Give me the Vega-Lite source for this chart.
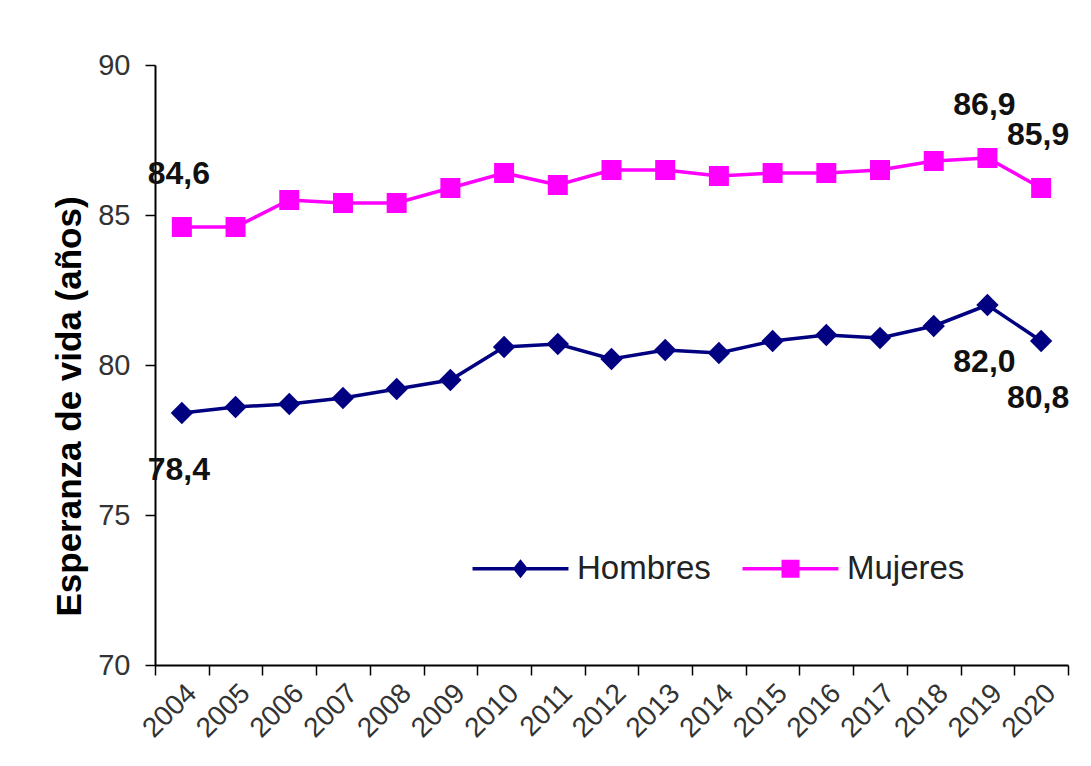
{
  "$schema": "https://vega.github.io/schema/vega-lite/v6.json",
  "width": 913,
  "height": 600,
  "autosize": {"type": "none"},
  "padding": {"left": 155, "top": 65, "right": 23, "bottom": 101},
  "background": "white",
  "config": {
    "view": {"stroke": null},
    "font": "Liberation Sans",
    "locale": {"number": {"decimal": ",", "thousands": ".", "grouping": [3], "currency": ["", " €"]}}
  },
  "data": {
    "values": [
      {"year": "2004", "serie": "Hombres", "valor": 78.4},
      {"year": "2005", "serie": "Hombres", "valor": 78.6},
      {"year": "2006", "serie": "Hombres", "valor": 78.7},
      {"year": "2007", "serie": "Hombres", "valor": 78.9},
      {"year": "2008", "serie": "Hombres", "valor": 79.2},
      {"year": "2009", "serie": "Hombres", "valor": 79.5},
      {"year": "2010", "serie": "Hombres", "valor": 80.6},
      {"year": "2011", "serie": "Hombres", "valor": 80.7},
      {"year": "2012", "serie": "Hombres", "valor": 80.2},
      {"year": "2013", "serie": "Hombres", "valor": 80.5},
      {"year": "2014", "serie": "Hombres", "valor": 80.4},
      {"year": "2015", "serie": "Hombres", "valor": 80.8},
      {"year": "2016", "serie": "Hombres", "valor": 81.0},
      {"year": "2017", "serie": "Hombres", "valor": 80.9},
      {"year": "2018", "serie": "Hombres", "valor": 81.3},
      {"year": "2019", "serie": "Hombres", "valor": 82.0},
      {"year": "2020", "serie": "Hombres", "valor": 80.8},
      {"year": "2004", "serie": "Mujeres", "valor": 84.6},
      {"year": "2005", "serie": "Mujeres", "valor": 84.6},
      {"year": "2006", "serie": "Mujeres", "valor": 85.5},
      {"year": "2007", "serie": "Mujeres", "valor": 85.4},
      {"year": "2008", "serie": "Mujeres", "valor": 85.4},
      {"year": "2009", "serie": "Mujeres", "valor": 85.9},
      {"year": "2010", "serie": "Mujeres", "valor": 86.4},
      {"year": "2011", "serie": "Mujeres", "valor": 86.0},
      {"year": "2012", "serie": "Mujeres", "valor": 86.5},
      {"year": "2013", "serie": "Mujeres", "valor": 86.5},
      {"year": "2014", "serie": "Mujeres", "valor": 86.3},
      {"year": "2015", "serie": "Mujeres", "valor": 86.4},
      {"year": "2016", "serie": "Mujeres", "valor": 86.4},
      {"year": "2017", "serie": "Mujeres", "valor": 86.5},
      {"year": "2018", "serie": "Mujeres", "valor": 86.8},
      {"year": "2019", "serie": "Mujeres", "valor": 86.9},
      {"year": "2020", "serie": "Mujeres", "valor": 85.9}
    ]
  },
  "encoding": {
    "x": {
      "field": "year",
      "type": "ordinal",
      "scale": {"paddingInner": 0, "paddingOuter": 0},
      "axis": {
        "title": null,
        "tickBand": "extent",
        "labelAngle": -45,
        "labelFontSize": 28,
        "labelColor": "#333333",
        "labelPadding": 4,
        "tickSize": 10,
        "tickColor": "#000000",
        "domainColor": "#000000",
        "domainWidth": 2,
        "tickWidth": 1.5,
        "grid": false
      }
    },
    "y": {
      "field": "valor",
      "type": "quantitative",
      "scale": {"domain": [70, 90], "nice": false, "zero": false},
      "axis": {
        "title": "Esperanza de vida (años)",
        "titleFontSize": 35,
        "titleFontWeight": "bold",
        "titleColor": "#000000",
        "titlePadding": 10,
        "titleY": 341,
        "titleAlign": "center",
        "values": [70, 75, 80, 85, 90],
        "labelFontSize": 29,
        "labelColor": "#333333",
        "labelPadding": 15,
        "tickSize": 10,
        "tickColor": "#000000",
        "domainColor": "#000000",
        "domainWidth": 2,
        "tickWidth": 1.5,
        "grid": false
      }
    }
  },
  "layer": [
    {
      "mark": {"type": "line", "strokeWidth": 3.5},
      "encoding": {
        "stroke": {
          "field": "serie",
          "type": "nominal",
          "scale": {"domain": ["Hombres", "Mujeres"], "range": ["#000080", "#ff00ff"]},
          "legend": {
            "orient": "none",
            "legendX": 349,
            "legendY": 487,
            "direction": "horizontal",
            "title": null,
            "padding": 0,
            "labelFontSize": 33,
            "labelColor": "#222222",
            "labelFont": "Liberation Sans",
            "symbolSize": 324,
            "symbolStrokeWidth": 0,
            "symbolType": "M-5.33,-0.19L5.33,-0.19L5.33,0.19L-5.33,0.19Z",
            "labelOffset": 40,
            "columnPadding": 31,
            "encode": {
              "symbols": {
                "update": {
                  "shape": {"signal": "datum.value === 'Hombres' ? 'M-5.33,-0.19L5.33,-0.19L5.33,0.19L-5.33,0.19ZM0,-1.05L0.85,0L0,1.05L-0.85,0Z' : 'M-5.33,-0.19L5.33,-0.19L5.33,0.19L-5.33,0.19ZM-1,-1L1,-1L1,1L-1,1Z'"},
                  "fill": {"signal": "datum.value === 'Hombres' ? '#000080' : '#ff00ff'"},
                  "fillOpacity": {"value": 1},
                  "opacity": {"value": 1}
                }
              }
            }
          }
        }
      }
    },
    {
      "transform": [{"filter": "datum.serie === 'Hombres'"}],
      "mark": {"type": "point", "filled": true, "opacity": 1, "shape": "diamond", "size": 500, "color": "#000080"}
    },
    {
      "transform": [{"filter": "datum.serie === 'Mujeres'"}],
      "mark": {"type": "point", "filled": true, "opacity": 1, "shape": "square", "size": 400, "color": "#ff00ff"}
    },
    {
      "transform": [{"filter": "datum.serie === 'Mujeres' && (datum.year === '2004' || datum.year === '2019' || datum.year === '2020')"}],
      "mark": {"type": "text", "dy": -53, "dx": -3, "fontSize": 32, "fontWeight": "bold", "color": "#111111", "baseline": "middle"},
      "encoding": {"text": {"field": "valor", "type": "quantitative", "format": ".1f"}}
    },
    {
      "transform": [{"filter": "datum.serie === 'Hombres' && (datum.year === '2004' || datum.year === '2019' || datum.year === '2020')"}],
      "mark": {"type": "text", "dy": 57, "dx": -3, "fontSize": 32, "fontWeight": "bold", "color": "#111111", "baseline": "middle"},
      "encoding": {"text": {"field": "valor", "type": "quantitative", "format": ".1f"}}
    }
  ]
}
